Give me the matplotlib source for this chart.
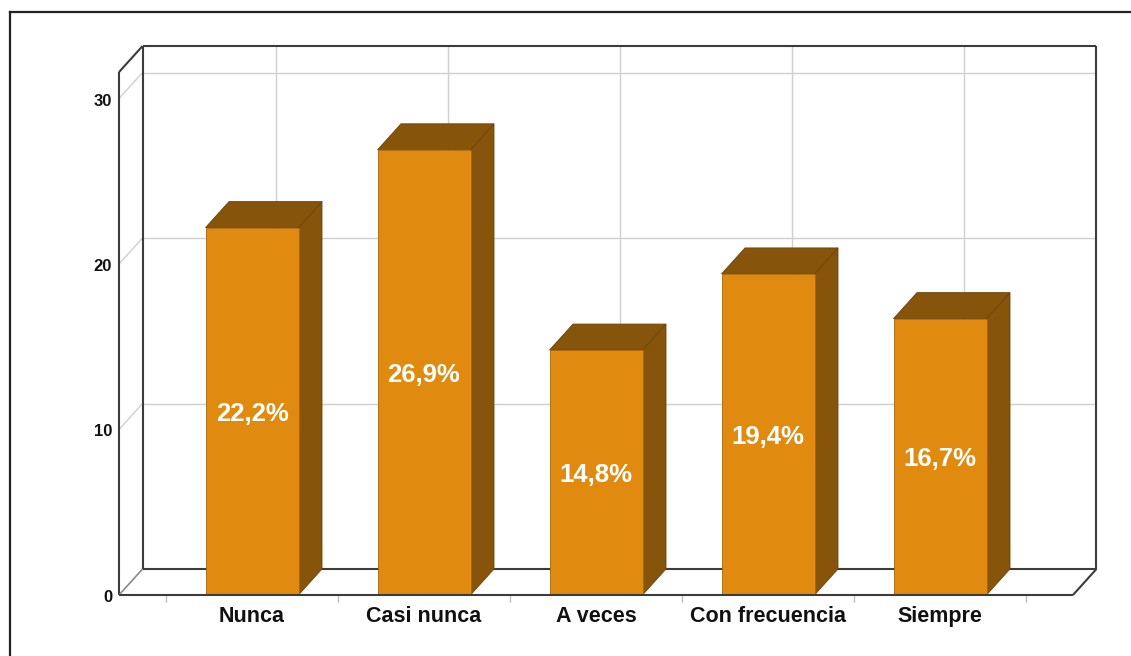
import matplotlib

matplotlib.use("Agg")
import matplotlib.pyplot as plt
from matplotlib.lines import Line2D
from matplotlib.patches import Polygon

plt.rcParams["font.family"] = ["Liberation Sans", "DejaVu Sans"]

categories = ["Nunca", "Casi nunca", "A veces", "Con frecuencia", "Siempre"]
percent = [22.2, 26.9, 14.8, 19.4, 16.7]
yticks = [0, 10, 20, 30]

FRONT = "#E08B10"
SHADE = "#86540A"
EDGE = "#3c3c3c"
GRID = "#cfcfcf"

# pixel geometry of the box: category spacing, px per percent, depth offset
W, H, DPI = 1131, 656, 100
PX_X, PX_Y = 172.0, 16.55
X0_PX, Y0_PX = 252.0, 595.0          # centre of first bar / floor line
DX, DY = 23.5 / PX_X, 26.0 / PX_Y    # depth offset in data units
HALF = 46.5 / PX_X                   # half bar width
XL, XR = -0.773, 4.773               # front floor ends
TOP = 31.6                           # wall height (front plane)
NUDGE = 2.5 / PX_Y                   # small downward shift for text

fig = plt.figure(figsize=(W / DPI, H / DPI), dpi=DPI)
L, R, T, B = 100, 1120, 30, 640
ax = fig.add_axes([L / W, 1 - B / H, (R - L) / W, (B - T) / H])
ax.set_xlim((L - X0_PX) / PX_X, (R - X0_PX) / PX_X)
ax.set_ylim((Y0_PX - B) / PX_Y, (Y0_PX - T) / PX_Y)
ax.axis("off")


def seg(x, y, color=EDGE, lw=1.5, z=2):
    ax.add_line(Line2D(x, y, color=color, lw=lw, zorder=z, solid_capstyle="butt"))


# gridlines on back wall and left wall
for t in yticks[1:]:
    seg([XL + DX, XR + DX], [t + DY, t + DY], GRID, 1.0, 1)
    seg([XL, XL + DX], [t, t + DY], GRID, 1.0, 1)
for i in range(len(categories)):
    seg([i + DX, i + DX], [DY, TOP + DY], GRID, 1.0, 1)

# box outline
seg([XL, XL], [0, TOP])
seg([XL, XL + DX], [TOP, TOP + DY])
seg([XL + DX, XR + DX], [TOP + DY, TOP + DY])
seg([XR + DX, XR + DX], [DY, TOP + DY])
seg([XL + DX, XL + DX], [DY, TOP + DY])
seg([XL + DX, XR + DX], [DY, DY])
seg([XR, XR + DX], [0, DY])
seg([XL, XL + DX], [0, DY], "#8a8a8a", 1.2)

# floor ticks between categories
for i in range(len(categories) + 1):
    seg([i - 0.5, i - 0.5], [0, -0.4], "#bdbdbd", 1.0, 1)

# bars
for i, v in enumerate(percent):
    a, b = i - HALF, i + HALF
    ax.add_patch(Polygon([(b, 0), (b + DX, DY), (b + DX, v + DY), (b, v)],
                         fc=SHADE, ec="#6e4508", lw=0.6, zorder=3))
    ax.add_patch(Polygon([(a, v), (a + DX, v + DY), (b + DX, v + DY), (b, v)],
                         fc=SHADE, ec="#6e4508", lw=0.6, zorder=3))
    ax.add_patch(Polygon([(a, 0), (b, 0), (b, v), (a, v)],
                         fc=FRONT, ec="#a8650c", lw=0.6, zorder=4))
    ax.text(i, v / 2 - NUDGE, f"{v:.1f}%".replace(".", ","), ha="center", va="center",
            color="white", fontsize=18.5, fontweight="bold", zorder=5)
    ax.text(i, -1.15 - NUDGE, categories[i], ha="center", va="center",
            color="#111111", fontsize=15.5, fontweight="bold")

seg([XL, XR], [0, 0], EDGE, 1.5, 6)

for t in yticks:
    ax.text(XL - 7 / PX_X, t - NUDGE, str(t), ha="right", va="center",
            color="#111111", fontsize=12, fontweight="bold")

# outer frame (left and top edges)
fig.add_artist(Line2D([9.5 / W, 9.5 / W], [0, 1 - 11.5 / H], color="#222222", lw=1.6))
fig.add_artist(Line2D([9.5 / W, 1], [1 - 11.5 / H, 1 - 11.5 / H], color="#222222", lw=1.6))

fig.savefig("out.png", dpi=DPI)
